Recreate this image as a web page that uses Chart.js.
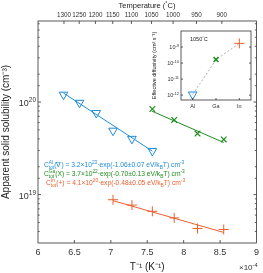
<!DOCTYPE html>
<html>
<head>
<meta charset="utf-8">
<script src="https://cdn.jsdelivr.net/npm/chart.js@4.4.1/dist/chart.umd.min.js"></script>
<style>
  body { margin: 0; background: #fff; overflow: hidden; }
  #wrap { position: relative; width: 263px; height: 273px; }
  #main { position: absolute; left: 0; top: 0; }
  #inset { position: absolute; left: 150px; top: 25px; }
</style>
</head>
<body>
<div id="wrap">
  <canvas id="main" width="263" height="273"></canvas>
  <canvas id="inset" width="108" height="88"></canvas>
</div>
<script>
// main plot data (1/T in units of 1e-4 K^-1, solubility in cm^-3)
const invT_Al = [6.35, 6.57, 6.80, 7.03, 7.29, 7.57];
const sol_Al = [1.2e20, 9.8e19, 7.6e19, 4.9e19, 4.0e19, 2.96e19];
const invT_Ga = [7.57, 7.87, 8.19, 8.55];
const sol_Ga = [8.4e19, 6.4e19, 4.56e19, 3.94e19];
const invT_In = [7.03, 7.29, 7.57, 7.87, 8.19, 8.55];
const sol_In = [8.8e18, 7.7e18, 6.6e18, 5.6e18, 4.3e18, 4.2e18];

// fitted lines (end points)
const fitX_Al = [6.35, 7.57];
const fitY_Al = [1.25e20, 2.95e19];
const fitX_Ga = [7.56, 8.55];
const fitY_Ga = [8.0e19, 3.65e19];
const fitX_In = [7.03, 8.55];
const fitY_In = [8.6e18, 3.9e18];

// top axis temperatures (°C)
const tempTicks = [1300, 1250, 1200, 1150, 1100, 1050, 1000, 950, 900];

// inset data
const insetCats = ['Al', 'Ga', 'In'];
const insetDiff = [1.1e-12, 1.65e-10, 1.7e-9];

const BLUE = 'rgb(30,140,215)';
const GREEN = 'rgb(30,140,30)';
const ORANGE = 'rgb(235,95,45)';
const FONT = 'Liberation Sans, Arial, sans-serif';

function isPow10(v) {
  const l = Math.log10(v);
  return Math.abs(l - Math.round(l)) < 1e-6;
}
function pts(xs, ys) {
  return xs.map((x, i) => ({ x: x, y: ys[i] }));
}

function drawRich(ctx, x, y, parts, size, color, align) {
  ctx.save();
  ctx.fillStyle = color;
  ctx.textBaseline = 'alphabetic';
  ctx.textAlign = 'left';
  const small = size * 0.72;
  let w = 0;
  parts.forEach(p => {
    const t = p[0], m = p[1];
    ctx.font = (m === 'n' ? size : small) + 'px ' + FONT;
    if (m === 'ss') w += Math.max(ctx.measureText(t[0]).width, ctx.measureText(t[1]).width);
    else w += ctx.measureText(t).width;
  });
  let cx = x;
  if (align === 'center') cx = x - w / 2;
  if (align === 'right') cx = x - w;
  parts.forEach(p => {
    const t = p[0], m = p[1];
    if (m === 'n') {
      ctx.font = size + 'px ' + FONT;
      ctx.fillText(t, cx, y);
      cx += ctx.measureText(t).width;
    } else if (m === 'sup') {
      ctx.font = small + 'px ' + FONT;
      ctx.fillText(t, cx, y - size * 0.42);
      cx += ctx.measureText(t).width;
    } else if (m === 'sub') {
      ctx.font = small + 'px ' + FONT;
      ctx.fillText(t, cx, y + size * 0.3);
      cx += ctx.measureText(t).width;
    } else if (m === 'ss') {
      ctx.font = small + 'px ' + FONT;
      ctx.fillText(t[0], cx, y - size * 0.42);
      ctx.fillText(t[1], cx, y + size * 0.32);
      cx += Math.max(ctx.measureText(t[0]).width, ctx.measureText(t[1]).width);
    }
  });
  ctx.restore();
}

// inward tick marks + box, MATLAB style
function boxTicks(chart, xIds, yId, len) {
  const ctx = chart.ctx;
  const a = chart.chartArea;
  ctx.save();
  ctx.strokeStyle = '#333';
  ctx.lineWidth = 0.8;
  ctx.strokeRect(a.left, a.top, a.right - a.left, a.bottom - a.top);
  xIds.forEach(id => {
    const s = chart.scales[id];
    if (!s) return;
    s.ticks.forEach(t => {
      const px = s.getPixelForValue(t.value);
      if (px < a.left + 1 || px > a.right - 1) return;
      ctx.beginPath();
      if (s.position === 'top') {
        ctx.moveTo(px, a.top); ctx.lineTo(px, a.top + len);
      } else {
        ctx.moveTo(px, a.bottom); ctx.lineTo(px, a.bottom - len);
      }
      ctx.stroke();
    });
  });
  const ys = chart.scales[yId];
  ys.ticks.forEach(t => {
    const py = ys.getPixelForValue(t.value);
    if (py < a.top + 1 || py > a.bottom - 1) return;
    const l = isPow10(t.value) ? len : len * 0.55;
    ctx.beginPath();
    ctx.moveTo(a.left, py); ctx.lineTo(a.left + l, py);
    ctx.moveTo(a.right, py); ctx.lineTo(a.right - l, py);
    ctx.stroke();
  });
  ctx.restore();
}

// "10^n" labels next to the log axis
function powLabels(chart, size, dy) {
  const ys = chart.scales.y;
  const a = chart.chartArea;
  ys.ticks.forEach(t => {
    if (!isPow10(t.value)) return;
    const py = ys.getPixelForValue(t.value);
    if (py < a.top - 1 || py > a.bottom + 1) return;
    const e = String(Math.round(Math.log10(t.value)));
    drawRich(chart.ctx, a.left - 2, py + dy, [['10', 'n'], [e, 'sup']], size, '#333', 'right');
  });
}

const mainDeco = {
  id: 'mainDeco',
  afterDraw(chart) {
    boxTicks(chart, ['x', 'x2'], 'y', 3);
    powLabels(chart, 9, 4);
    const ctx = chart.ctx;
    // top temperature axis labels and title
    const s2 = chart.scales.x2;
    ctx.save();
    ctx.fillStyle = '#333';
    ctx.font = '6.3px ' + FONT;
    ctx.textAlign = 'center';
    ctx.textBaseline = 'middle';
    s2.ticks.forEach(t => {
      ctx.fillText(String(Math.round(1e4 / t.value - 273.15)), s2.getPixelForValue(t.value), 15);
    });
    ctx.restore();
    drawRich(ctx, 147, 8, [['Temperature (', 'n'], ['°', 'sup'], ['C)', 'n']], 7.5, '#222', 'center');

    drawRich(ctx, 44, 167, [['C', 'n'], [['Al', 'tot'], 'ss'], ['(∇) = 3.2×10', 'n'], ['23', 'sup'],
      ['·exp(-1.06±0.07 eV/k', 'n'], ['B', 'sub'], ['T) cm', 'n'], ['-3', 'sup']], 6.7, BLUE);
    drawRich(ctx, 44, 176, [['C', 'n'], [['Ga', 'tot'], 'ss'], ['(X) = 3.7×10', 'n'], ['22', 'sup'],
      ['·exp(-0.70±0.13 eV/k', 'n'], ['B', 'sub'], ['T) cm', 'n'], ['-3', 'sup']], 6.7, GREEN);
    drawRich(ctx, 46, 185, [['C', 'n'], [['In', 'tot'], 'ss'], ['(+) = 4.1×10', 'n'], ['20', 'sup'],
      ['·exp(-0.48±0.05 eV/k', 'n'], ['B', 'sub'], ['T) cm', 'n'], ['-3', 'sup']], 6.7, ORANGE);
    drawRich(ctx, 239, 270, [['×10', 'n'], ['-4', 'sup']], 8, '#333');
  }
};

new Chart(document.getElementById('main').getContext('2d'), {
  type: 'scatter',
  data: {
    datasets: [
      { data: pts(fitX_Al, fitY_Al), showLine: true, borderColor: BLUE, borderWidth: 1, pointRadius: 0 },
      { data: pts(fitX_Ga, fitY_Ga), showLine: true, borderColor: GREEN, borderWidth: 1, pointRadius: 0 },
      { data: pts(fitX_In, fitY_In), showLine: true, borderColor: ORANGE, borderWidth: 1, pointRadius: 0 },
      { data: pts(invT_Al, sol_Al), pointStyle: 'triangle', rotation: 180, pointRadius: 5,
        borderColor: BLUE, backgroundColor: 'rgba(0,0,0,0)', borderWidth: 1 },
      { data: pts(invT_Ga, sol_Ga), pointStyle: 'crossRot', pointRadius: 4,
        borderColor: GREEN, borderWidth: 1.2 },
      { data: pts(invT_In, sol_In), pointStyle: 'cross', pointRadius: 5,
        borderColor: ORANGE, borderWidth: 1 }
    ]
  },
  options: {
    responsive: false,
    animation: false,
    devicePixelRatio: 1,
    layout: { padding: { left: 0, right: 3, top: 0, bottom: 0 } },
    plugins: { legend: { display: false }, tooltip: { enabled: false } },
    scales: {
      x: {
        type: 'linear', position: 'bottom', min: 6, max: 9,
        grid: { display: false, drawTicks: false }, border: { display: false },
        ticks: { stepSize: 0.5, color: '#333', font: { size: 9, family: FONT }, padding: 4, maxRotation: 0,
          callback: v => String(v) },
        title: { display: true, text: 'T⁻¹ (K⁻¹)', color: '#222', font: { size: 10, family: FONT }, padding: 0 },
        afterFit: s => { s.height = 30; }
      },
      x2: {
        type: 'linear', position: 'top', min: 6, max: 9,
        grid: { display: false, drawTicks: false }, border: { display: false },
        afterBuildTicks: s => { s.ticks = tempTicks.map(t => ({ value: 1e4 / (t + 273.15) })); },
        ticks: { display: false, autoSkip: false },
        afterFit: s => { s.height = 21; }
      },
      y: {
        type: 'logarithmic', min: 3e18, max: 7.5e20,
        grid: { display: false, drawTicks: false }, border: { display: false },
        ticks: { display: false, autoSkip: false },
        title: { display: true, text: 'Apparent solid solubility (cm⁻³)', color: '#222', font: { size: 10, family: FONT }, padding: 0 },
        afterFit: s => { s.width = 38; }
      }
    }
  },
  plugins: [mainDeco]
});

const insetDeco = {
  id: 'insetDeco',
  beforeDraw(chart) {
    const ctx = chart.ctx;
    const a = chart.chartArea;
    ctx.save();
    ctx.fillStyle = '#fff';
    ctx.fillRect(a.left, a.top, a.right - a.left, a.bottom - a.top);
    ctx.restore();
  },
  afterDraw(chart) {
    boxTicks(chart, ['x'], 'y', 2);
    powLabels(chart, 5.5, 2);
    drawRich(chart.ctx, 40, 16, [['1050', 'n'], ['°', 'sup'], ['C', 'n']], 5.5, '#222');
  }
};

new Chart(document.getElementById('inset').getContext('2d'), {
  type: 'line',
  data: {
    labels: insetCats,
    datasets: [{
      data: insetDiff,
      borderColor: '#999', borderWidth: 0.8, borderDash: [2, 2],
      pointStyle: ['triangle', 'crossRot', 'cross'],
      rotation: [180, 0, 0],
      pointRadius: [5, 3.5, 5],
      pointBorderWidth: [1, 1.5, 1],
      pointBorderColor: [BLUE, GREEN, ORANGE],
      pointBackgroundColor: 'rgba(0,0,0,0)'
    }]
  },
  options: {
    responsive: false,
    animation: false,
    devicePixelRatio: 1,
    layout: { padding: { left: 0, right: 7, top: 3, bottom: 0 } },
    plugins: { legend: { display: false }, tooltip: { enabled: false } },
    scales: {
      x: {
        type: 'category', offset: true,
        grid: { display: false, drawTicks: false }, border: { display: false },
        ticks: { color: '#333', font: { size: 5.5, family: FONT }, padding: 3, maxRotation: 0 },
        afterFit: s => { s.height = 13; }
      },
      y: {
        type: 'logarithmic', min: 5e-13, max: 1e-8,
        grid: { display: false, drawTicks: false }, border: { display: false },
        afterBuildTicks: s => { s.ticks = [1e-12, 1e-11, 1e-10, 1e-9].map(v => ({ value: v })); },
        ticks: { display: false, autoSkip: false },
        title: { display: true, text: 'Effective diffusivity (cm² s⁻¹)', color: '#222', font: { size: 5.5, family: FONT }, padding: 1 },
        afterFit: s => { s.width = 31; }
      }
    }
  },
  plugins: [insetDeco]
});
</script>
</body>
</html>
